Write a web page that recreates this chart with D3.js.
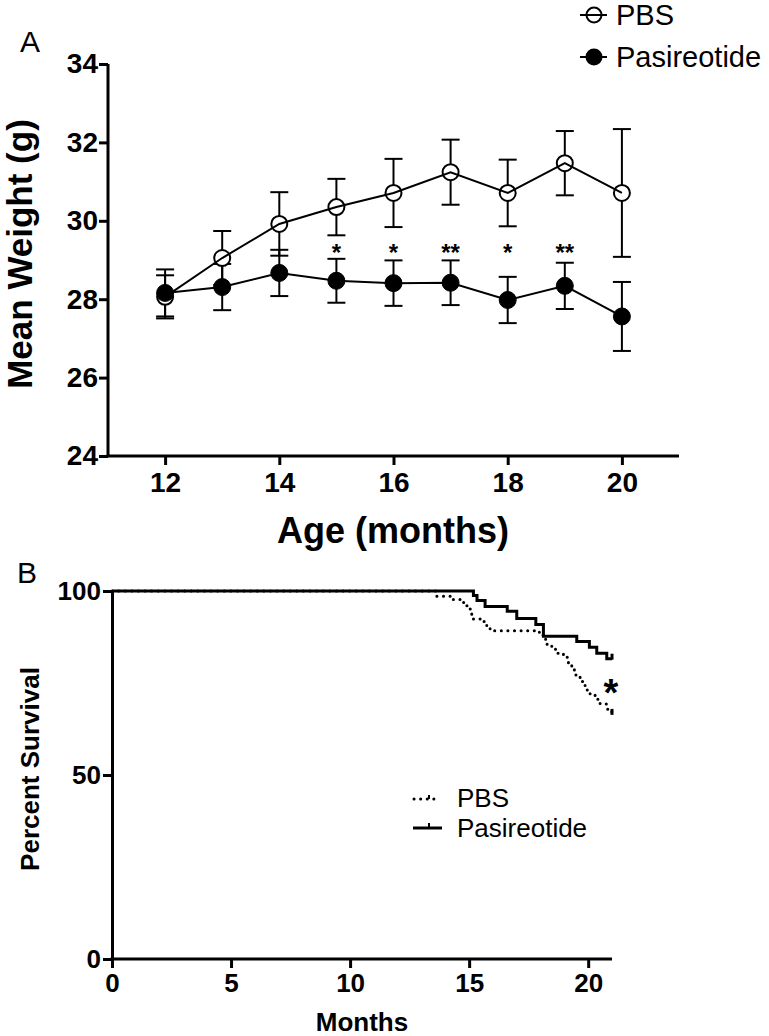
<!DOCTYPE html>
<html><head><meta charset="utf-8">
<script src="https://cdn.jsdelivr.net/npm/d3@7"></script>
<style>
html,body{margin:0;padding:0;background:#fff;}
text{font-family:"Liberation Sans",Arial,Helvetica,sans-serif;fill:#000;}
</style></head>
<body><svg id="c" width="769" height="1036"></svg>
<script>
// ---- Panel A data ----
const weightMonths = [12,13,14,15,16,17,18,19,20];
const pbsMean = [28.06,29.05,29.92,30.35,30.71,31.24,30.71,31.47,30.71];
const pbsErr  = [0.55,0.69,0.81,0.72,0.87,0.83,0.85,0.82,1.63];
const pasMean = [28.16,28.31,28.67,28.47,28.41,28.42,27.98,28.34,27.56];
const pasErr  = [0.6,0.59,0.59,0.56,0.58,0.57,0.59,0.59,0.88];
const starMonths = [15,16,17,18,19];
const starLabels = ["*","*","**","*","**"];
const starLevel = 29.3;
const yTicksA = [24,26,28,30,32,34];
const xTicksA = [12,14,16,18,20];
const seriesNames = ["PBS","Pasireotide"];

// ---- Panel B data (Kaplan-Meier steps) ----
const pasTimes = [0,15.18,15.33,15.67,16.6,17.0,17.8,18.12,19.52,20.05,20.36,20.78];
const pasSurv  = [100,98.8,97.4,95.8,94.5,92.5,90.9,87.7,86.3,84.7,83.1,81.6];
const pbsTimes = [0,13.64,14.27,14.62,14.83,14.97,15.07,15.11,15.6,15.74,15.88,17.95,18.12,18.26,18.47,18.68,18.96,19.17,19.31,19.42,19.66,19.87,20.08,20.29,20.5,20.78,20.99];
const pbsSurv  = [100,98.6,97.7,96.9,96.0,95.1,94.1,92.4,91.7,90.5,89.2,88.0,86.9,85.5,84.2,83.1,82.0,80.5,79.0,77.2,75.4,73.1,71.7,70.6,69.3,67.9,66.6];
const endTime = 21;
const yTicksB = [0,50,100];
const xTicksB = [0,5,10,15,20];

const svg = d3.select("#c");

// ================= Panel A =================
const xA = d3.scaleLinear().domain([11,21]).range([108,679]);
const yA = d3.scaleLinear().domain([24,34]).range([456,64]);

svg.append("text").attr("x",20).attr("y",52).attr("font-size",30).text("A");

const gA = svg.append("g");
const yAxA = gA.append("g").attr("transform","translate(108,0)")
  .call(d3.axisLeft(yA).tickValues(yTicksA).tickSize(9).tickSizeOuter(0).tickPadding(1));
const xAxA = gA.append("g").attr("transform","translate(0,456)")
  .call(d3.axisBottom(xA).tickValues(xTicksA).tickSize(9).tickSizeOuter(0).tickPadding(7));
[yAxA,xAxA].forEach(a=>{
  a.select(".domain").attr("stroke","#000").attr("stroke-width",3);
  a.selectAll(".tick line").attr("stroke","#000").attr("stroke-width",3);
  a.selectAll(".tick text").attr("font-size",28).attr("font-weight","bold")
   .attr("font-family","'Liberation Sans',Arial,sans-serif").attr("fill","#000");
});
yAxA.select(".domain").attr("d","M0,455V64");
xAxA.select(".domain").attr("d","M106.5,0H679");

svg.append("text").attr("x",393).attr("y",543).attr("text-anchor","middle")
  .attr("font-size",36).attr("font-weight","bold").text("Age (months)");
svg.append("text").attr("transform","translate(32,254) rotate(-90)").attr("text-anchor","middle")
  .attr("font-size",35).attr("font-weight","bold").text("Mean Weight (g)");

const pbsData = weightMonths.map((m,i)=>({m,v:pbsMean[i],e:pbsErr[i]}));
const pasData = weightMonths.map((m,i)=>({m,v:pasMean[i],e:pasErr[i]}));
const capHalf = 9;

function errBars(data){
  const g = gA.append("g").attr("stroke","#000").attr("stroke-width",2);
  data.forEach(d=>{
    g.append("line").attr("x1",xA(d.m)).attr("x2",xA(d.m)).attr("y1",yA(d.v-d.e)).attr("y2",yA(d.v+d.e));
    g.append("line").attr("x1",xA(d.m)-capHalf).attr("x2",xA(d.m)+capHalf).attr("y1",yA(d.v+d.e)).attr("y2",yA(d.v+d.e));
    g.append("line").attr("x1",xA(d.m)-capHalf).attr("x2",xA(d.m)+capHalf).attr("y1",yA(d.v-d.e)).attr("y2",yA(d.v-d.e));
  });
}
errBars(pbsData);
errBars(pasData);

gA.selectAll("circle.pbs").data(pbsData).enter().append("circle").attr("class","pbs")
  .attr("cx",d=>xA(d.m)).attr("cy",d=>yA(d.v)).attr("r",8)
  .attr("fill","#fff").attr("stroke","#000").attr("stroke-width",2);
gA.selectAll("circle.pas").data(pasData).enter().append("circle").attr("class","pas")
  .attr("cx",d=>xA(d.m)).attr("cy",d=>yA(d.v)).attr("r",8.5)
  .attr("fill","#000").attr("stroke","#000").attr("stroke-width",1);

const lineA = d3.line().x(d=>xA(d.m)).y(d=>yA(d.v));
gA.append("path").datum(pbsData).attr("d",lineA).attr("fill","none").attr("stroke","#000").attr("stroke-width",2);
gA.append("path").datum(pasData).attr("d",lineA).attr("fill","none").attr("stroke","#000").attr("stroke-width",2);

gA.selectAll("text.star").data(starMonths).enter().append("text").attr("class","star")
  .attr("x",d=>xA(d)).attr("y",yA(starLevel)+13).attr("text-anchor","middle")
  .attr("font-size",24).attr("font-weight","bold").text((d,i)=>starLabels[i]);

// legend A
const legA = svg.append("g");
const legAy = [15,57];
seriesNames.forEach((n,i)=>{
  legA.append("line").attr("x1",580).attr("x2",607).attr("y1",legAy[i]).attr("y2",legAy[i])
    .attr("stroke","#000").attr("stroke-width",2);
  legA.append("circle").attr("cx",594).attr("cy",legAy[i]).attr("r",7.5)
    .attr("fill",i===0?"none":"#000").attr("stroke","#000").attr("stroke-width",2);
  legA.append("text").attr("x",616).attr("y",legAy[i]+10).attr("font-size",29).text(n);
});

// ================= Panel B =================
const xB = d3.scaleLinear().domain([0,21]).range([112,612]);
const yB = d3.scaleLinear().domain([0,100]).range([959,591]);

svg.append("text").attr("x",17).attr("y",583).attr("font-size",30).text("B");

const gB = svg.append("g");
const yAxB = gB.append("g").attr("transform","translate(112,0)")
  .call(d3.axisLeft(yB).tickValues(yTicksB).tickSize(9).tickSizeOuter(0).tickPadding(2));
const xAxB = gB.append("g").attr("transform","translate(0,959)")
  .call(d3.axisBottom(xB).tickValues(xTicksB).tickSize(9).tickSizeOuter(0).tickPadding(6));
[yAxB,xAxB].forEach(a=>{
  a.select(".domain").attr("stroke","#000").attr("stroke-width",3);
  a.selectAll(".tick line").attr("stroke","#000").attr("stroke-width",3);
  a.selectAll(".tick text").attr("font-size",26).attr("font-weight","bold")
   .attr("font-family","'Liberation Sans',Arial,sans-serif").attr("fill","#000");
});
xAxB.select(".domain").attr("d","M110.5,0H612");

svg.append("text").attr("x",362).attr("y",1031).attr("text-anchor","middle")
  .attr("font-size",26).attr("font-weight","bold").text("Months");
svg.append("text").attr("transform","translate(39,769) rotate(-90)").attr("text-anchor","middle")
  .attr("font-size",26).attr("font-weight","bold").text("Percent Survival");

const stepLine = d3.line().x(d=>xB(d[0])).y(d=>yB(d[1])).curve(d3.curveStepAfter);
const pasPts = pasTimes.map((t,i)=>[t,pasSurv[i]]).concat([[endTime,pasSurv[pasSurv.length-1]]]);
const pbsPts = pbsTimes.map((t,i)=>[t,pbsSurv[i]]).concat([[endTime,pbsSurv[pbsSurv.length-1]]]);

gB.append("path").datum(pbsPts).attr("d",stepLine).attr("fill","none").attr("stroke","#000")
  .attr("stroke-width",3).attr("stroke-linecap","round").attr("stroke-dasharray","0.1 6.5");
gB.append("path").datum(pasPts).attr("d",stepLine).attr("fill","none").attr("stroke","#000")
  .attr("stroke-width",3);
[[endTime,pasSurv[pasSurv.length-1]],[endTime,pbsSurv[pbsSurv.length-1]]].forEach(p=>{
  gB.append("line").attr("x1",xB(p[0])).attr("x2",xB(p[0])).attr("y1",yB(p[1])+1).attr("y2",yB(p[1])-5)
    .attr("stroke","#000").attr("stroke-width",3);
});

svg.append("text").attr("x",611).attr("y",706).attr("text-anchor","middle")
  .attr("font-size",38).attr("font-weight","bold").text("*");

// legend B
const legB = svg.append("g");
legB.append("line").attr("x1",414).attr("x2",440).attr("y1",799).attr("y2",799)
  .attr("stroke","#000").attr("stroke-width",3).attr("stroke-linecap","round").attr("stroke-dasharray","0.1 6.5");
legB.append("line").attr("x1",429).attr("x2",429).attr("y1",799).attr("y2",795).attr("stroke","#000").attr("stroke-width",2);
legB.append("line").attr("x1",413).attr("x2",442).attr("y1",828).attr("y2",828).attr("stroke","#000").attr("stroke-width",3);
legB.append("line").attr("x1",429).attr("x2",429).attr("y1",828).attr("y2",823).attr("stroke","#000").attr("stroke-width",2);
legB.append("text").attr("x",457).attr("y",807).attr("font-size",26).text(seriesNames[0]);
legB.append("text").attr("x",457).attr("y",837).attr("font-size",26).text(seriesNames[1]);
</script></body></html>
